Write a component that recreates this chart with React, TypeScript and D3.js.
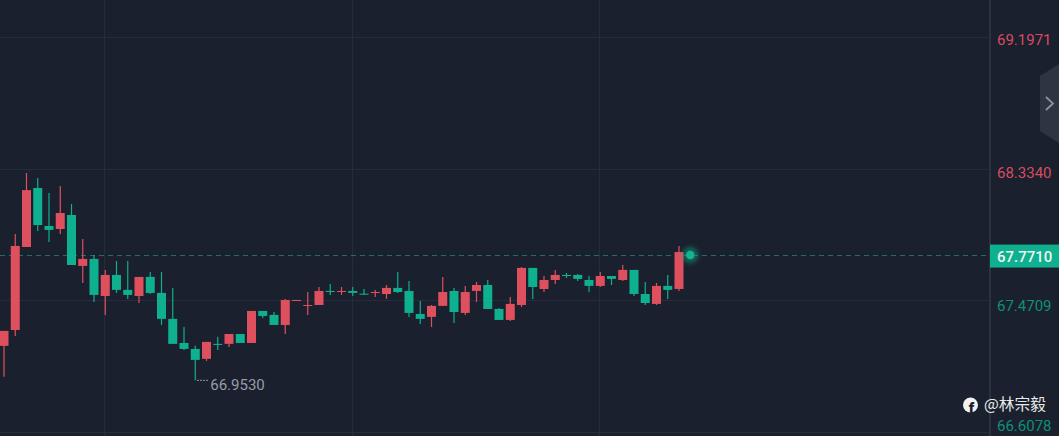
import { useRef, useEffect } from 'react';
import * as d3 from 'd3';

const opens = [67.179, 67.283, 67.827, 68.214, 67.965, 67.945, 68.037, 67.703, 67.749, 67.506, 67.644, 67.546, 67.506, 67.631, 67.526, 67.356, 67.198, 67.159, 67.094, 67.192, 67.192, 67.257, 67.198, 67.408, 67.382, 67.316, 67.473, 67.441, 67.447, 67.539, 67.532, 67.539, 67.521, 67.526, 67.519, 67.559, 67.539, 67.388, 67.369, 67.441, 67.539, 67.395, 67.539, 67.578, 67.421, 67.349, 67.447, 67.69, 67.552, 67.611, 67.644, 67.644, 67.611, 67.572, 67.637, 67.611, 67.677, 67.519, 67.454, 67.572, 67.552];
const closes = [67.277, 67.834, 68.2, 67.971, 67.939, 68.05, 67.709, 67.749, 67.513, 67.644, 67.546, 67.513, 67.631, 67.526, 67.356, 67.192, 67.159, 67.087, 67.205, 67.185, 67.257, 67.198, 67.408, 67.375, 67.316, 67.48, 67.48, 67.447, 67.539, 67.532, 67.539, 67.526, 67.515, 67.532, 67.559, 67.532, 67.395, 67.356, 67.441, 67.532, 67.401, 67.532, 67.578, 67.421, 67.349, 67.454, 67.69, 67.565, 67.611, 67.644, 67.637, 67.618, 67.572, 67.637, 67.618, 67.677, 67.519, 67.46, 67.572, 67.546, 67.794];
const highs = [67.277, 67.912, 68.312, 68.279, 68.181, 68.227, 68.109, 67.88, 67.775, 67.677, 67.735, 67.735, 67.631, 67.663, 67.663, 67.559, 67.303, 67.179, 67.205, 67.238, 67.257, 67.257, 67.408, 67.408, 67.401, 67.487, 67.48, 67.532, 67.565, 67.585, 67.565, 67.565, 67.552, 67.546, 67.578, 67.663, 67.604, 67.473, 67.447, 67.631, 67.559, 67.572, 67.598, 67.611, 67.428, 67.5, 67.696, 67.69, 67.637, 67.677, 67.657, 67.65, 67.637, 67.663, 67.637, 67.709, 67.677, 67.598, 67.591, 67.644, 67.834];
const lows = [66.976, 67.244, 67.827, 67.932, 67.86, 67.912, 67.709, 67.591, 67.467, 67.382, 67.526, 67.487, 67.46, 67.519, 67.316, 67.192, 67.152, 66.953, 67.08, 67.152, 67.172, 67.198, 67.198, 67.362, 67.316, 67.257, 67.473, 67.382, 67.447, 67.513, 67.513, 67.506, 67.513, 67.5, 67.487, 67.526, 67.369, 67.323, 67.303, 67.441, 67.329, 67.382, 67.467, 67.421, 67.349, 67.342, 67.434, 67.487, 67.532, 67.585, 67.624, 67.604, 67.532, 67.565, 67.578, 67.604, 67.506, 67.447, 67.447, 67.487, 67.539];

const upTicks = ['69.1971', '68.3340'];
const downTicks = ['67.4709', '66.6078'];
const lastPrice = 67.771;
const lowLabel = 66.953;
const lowIndex = 17;
const gridIndexes = [9, 31, 53];

const RED = '#df505f';
const GREEN = '#0fb08f';
const BG = '#1a202d';
const GRID = '#252d3c';

const App = () => {
  const svgRef = useRef<SVGSVGElement>(null);

  useEffect(() => {
    const svg = d3.select(svgRef.current).attr('width', 1059).attr('height', 436);
    svg.selectAll('*').remove();

    const x = d3.scaleLinear().domain([0, 60]).range([4, 679]);
    const y = d3.scaleLinear().domain([66.6078, 69.1971]).range([433, 38]);
    // axis labels sit on their own slightly wider scale, clamped at the bottom edge
    const labelY = d3.scaleLinear().domain([66.6078, 69.1971]).range([443.5, 45]);
    const labelPos = (t: string) => Math.min(labelY(+t), 431);
    const font = 'Roboto, sans-serif';

    svg.append('rect').attr('width', 1059).attr('height', 436).attr('fill', BG);

    const glow = svg.append('defs').append('filter').attr('id', 'glow')
      .attr('x', '-100%').attr('y', '-100%').attr('width', '300%').attr('height', '300%');
    glow.append('feGaussianBlur').attr('stdDeviation', 2.5);

    // Grid
    [...upTicks, ...downTicks].forEach(t => {
      svg.append('line')
        .attr('x1', 0).attr('x2', 990)
        .attr('y1', Math.round(y(+t)) - 0.5).attr('y2', Math.round(y(+t)) - 0.5)
        .attr('stroke', GRID);
    });
    gridIndexes.forEach(i => {
      svg.append('line')
        .attr('x1', Math.round(x(i)) - 0.5).attr('x2', Math.round(x(i)) - 0.5)
        .attr('y1', 0).attr('y2', 436)
        .attr('stroke', GRID);
    });
    svg.append('line')
      .attr('x1', 990).attr('x2', 990).attr('y1', 0).attr('y2', 436)
      .attr('stroke', '#2a3140').attr('stroke-width', 2);

    // Last price line
    svg.append('line')
      .attr('x1', 0).attr('x2', 990)
      .attr('y1', y(lastPrice)).attr('y2', y(lastPrice))
      .attr('stroke', '#24716d').attr('stroke-dasharray', '5 4');

    // Candles
    const candles = svg.append('g').selectAll('g')
      .data(d3.range(opens.length))
      .enter().append('g');
    const color = (i: number) => (closes[i] >= opens[i] ? RED : GREEN);

    candles.append('line')
      .attr('x1', i => x(i)).attr('x2', i => x(i))
      .attr('y1', i => y(highs[i])).attr('y2', i => y(lows[i]))
      .attr('stroke', color).attr('stroke-width', 1.2);

    candles.append('rect')
      .attr('x', i => x(i) - 4.5)
      .attr('width', 9)
      .attr('y', i => y(Math.max(opens[i], closes[i])))
      .attr('height', i => Math.max(1, Math.abs(y(opens[i]) - y(closes[i]))))
      .attr('fill', color);

    // Pulse on the last price
    const px = x(60) + 11.25;
    svg.append('circle').attr('cx', px).attr('cy', y(lastPrice) - 0.5).attr('r', 8)
      .attr('fill', GREEN).attr('opacity', 0.5).attr('filter', 'url(#glow)');
    svg.append('circle').attr('cx', px).attr('cy', y(lastPrice) - 0.5).attr('r', 4.2).attr('fill', '#10b593');

    // Low marker
    svg.append('line')
      .attr('x1', x(lowIndex) + 2).attr('x2', x(lowIndex) + 14)
      .attr('y1', y(lowLabel)).attr('y2', y(lowLabel))
      .attr('stroke', '#b4b8bf').attr('stroke-dasharray', '1.5 1.5');
    svg.append('text')
      .attr('x', x(lowIndex) + 15).attr('y', y(lowLabel) + 10)
      .attr('font-family', font).attr('font-size', 15).attr('fill', '#989ca4')
      .text(lowLabel.toFixed(4));

    // Price axis labels
    upTicks.forEach(t => {
      svg.append('text').attr('x', 997).attr('y', labelPos(t))
        .attr('font-family', font).attr('font-size', 15).attr('fill', '#d84c60').text(t);
    });
    downTicks.forEach(t => {
      svg.append('text').attr('x', 997).attr('y', labelPos(t))
        .attr('font-family', font).attr('font-size', 15).attr('fill', '#0f8f79').text(t);
    });
    svg.append('rect')
      .attr('x', 990).attr('y', y(lastPrice) - 11).attr('width', 69).attr('height', 23)
      .attr('fill', GREEN);
    svg.append('text').attr('x', 997).attr('y', y(lastPrice) + 6)
      .attr('font-family', font).attr('font-size', 15).attr('font-weight', 500)
      .attr('fill', '#eef5f3').text(lastPrice.toFixed(4));

    // Side panel handle
    svg.append('path')
      .attr('d', 'M1059,64 L1040,76 L1040,131 L1059,143 Z')
      .attr('fill', '#2e3442');
    svg.append('path')
      .attr('d', 'M1046,97 L1053,103.5 L1046,110')
      .attr('fill', 'none').attr('stroke', '#8d929c').attr('stroke-width', 1.8);

    // Watermark
    svg.append('circle').attr('cx', 970.5).attr('cy', 405).attr('r', 7.5).attr('fill', '#f2f2f2');
    svg.append('text').attr('x', 971.5).attr('y', 412.5)
      .attr('text-anchor', 'middle')
      .attr('font-family', 'Roboto, sans-serif').attr('font-size', 15).attr('font-weight', 900)
      .attr('fill', BG).text('f');
    svg.append('text').attr('x', 984).attr('y', 410)
      .attr('font-family', '"Noto Sans CJK TC", sans-serif').attr('font-size', 15.7)
      .attr('fill', '#e8e8e8').text('@林宗毅');
  }, []);

  return <svg ref={svgRef} style={{ position: 'fixed', left: 0, top: 0, display: 'block' }}></svg>;
};

export default App;
